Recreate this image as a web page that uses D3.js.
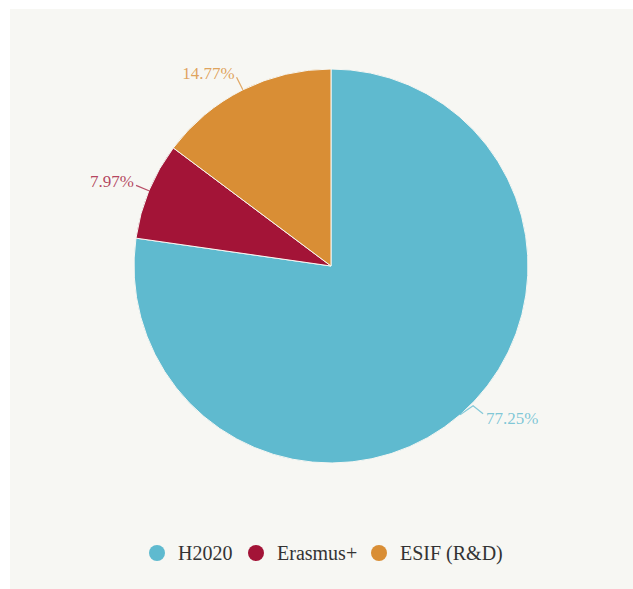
<!DOCTYPE html>
<html><head><meta charset="utf-8">
<script src="https://cdn.jsdelivr.net/npm/d3@7"></script>
<style>
html,body{margin:0;padding:0;background:#fff;}
svg{display:block;}
</style></head>
<body>
<svg id="chart" width="633" height="589"></svg>
<script>
const categories = ["H2020", "Erasmus+", "ESIF (R&D)"];
const values = [77.25, 7.97, 14.77];
const colors = ["#5fbacf", "#a31437", "#d98e35"];

const W = 633, H = 589;
const svg = d3.select("#chart");
svg.append("rect").attr("x", 10).attr("y", 9).attr("width", W - 10).attr("height", H - 9).attr("fill", "#f7f7f3");

const cx = 331, cy = 266, r = 197;
const g = svg.append("g").attr("transform", `translate(${cx},${cy})`);

const data = categories.map((c, i) => ({ name: c, value: values[i], color: colors[i] }));
const pie = d3.pie().value(d => d.value).sort(null);
const arcs = pie(data);
const arc = d3.arc().innerRadius(0).outerRadius(r);

g.selectAll("path.slice").data(arcs).enter().append("path")
  .attr("class", "slice")
  .attr("d", arc)
  .attr("fill", d => d.data.color)
  .attr("stroke", "#f7f7f3")
  .attr("stroke-width", 1);

const fmt = d => d3.format(".2f")(d) + "%";
const pt = (a, rr) => [Math.sin(a) * rr, -Math.cos(a) * rr];

arcs.forEach(d => {
  const mid = (d.startAngle + d.endAngle) / 2;
  const p0 = pt(mid, r);
  const right = Math.sin(mid) > 0;
  let pts, tx, ty, anchor;
  if (right) {
    pts = [p0, [p0[0] + 13, p0[1] - 9], [p0[0] + 23, p0[1] - 1]];
    tx = p0[0] + 26; ty = p0[1] + 9; anchor = "start";
  } else {
    const p1 = pt(mid, r + 14);
    pts = [p0, p1];
    tx = p1[0] - 2; ty = p1[1] + 2; anchor = "end";
  }
  g.append("polyline")
    .attr("points", pts.map(p => p.join(",")).join(" "))
    .attr("fill", "none")
    .attr("stroke", d.data.color)
    .attr("stroke-opacity", 0.75)
    .attr("stroke-width", 1.2);
  g.append("text")
    .attr("x", tx).attr("y", ty)
    .attr("text-anchor", anchor)
    .attr("font-family", "'Liberation Serif', 'Times New Roman', serif")
    .attr("font-size", 17)
    .attr("fill", d.data.color)
    .attr("fill-opacity", 0.8)
    .text(fmt(d.data.value));
});

// legend
const legendX = [157, 256, 379];
const legend = svg.append("g");
data.forEach((d, i) => {
  legend.append("circle").attr("cx", legendX[i]).attr("cy", 553).attr("r", 8).attr("fill", d.color);
  legend.append("text")
    .attr("x", legendX[i] + 21).attr("y", 560)
    .attr("font-family", "'Liberation Serif', 'Times New Roman', serif")
    .attr("font-size", 20)
    .attr("fill", "#333")
    .text(d.name);
});
</script>
</body></html>
